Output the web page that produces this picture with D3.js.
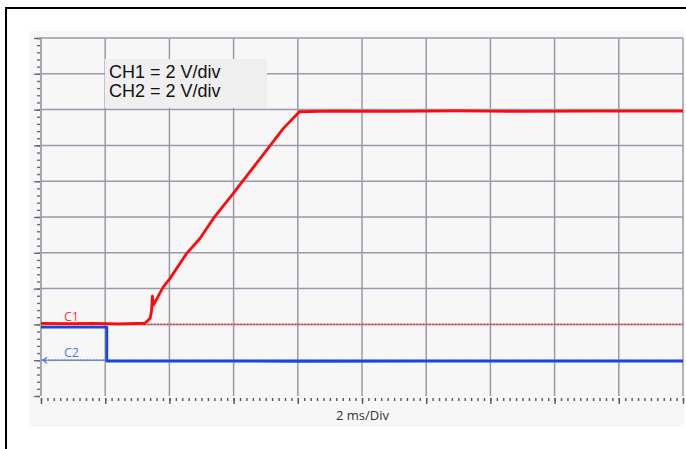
<!DOCTYPE html>
<html>
<head>
<meta charset="utf-8">
<script src="https://cdn.jsdelivr.net/npm/d3@7"></script>
<style>
  html, body { margin: 0; padding: 0; background: #fff; }
  svg { display: block; }
</style>
</head>
<body>
<svg id="chart" width="686" height="449"></svg>
<script>
// time axis in ms, 2 ms/div, 10 divisions
const timeDivs = [0, 2, 4, 6, 8, 10, 12, 14, 16, 18, 20];
// vertical divisions counted from the bottom of the screen
const voltDivs = [0, 1, 2, 3, 4, 5, 6, 7, 8, 9, 10];

const legendLines = ['CH1 = 2 V/div', 'CH2 = 2 V/div'];
const xLabel = '2 ms/Div';

// CH1 (red) - soft start ramp, volts
const ch1Time = [0, 0.8, 1.6, 2.4, 3.0, 3.24, 3.40, 3.44, 3.47, 3.50, 3.81, 4.02, 4.54, 4.95, 5.37, 5.99, 6.51, 7.03, 7.55, 8.05, 9, 11, 13, 15, 17, 20];
const ch1Volt = [0.06, 0.04, 0.06, 0.03, 0.05, 0.06, 0.34, 0.69, 1.58, 1.08, 2.10, 2.57, 3.97, 4.80, 5.92, 7.32, 8.53, 9.74, 10.95, 11.88, 11.92, 11.90, 11.93, 11.90, 11.92, 11.92];

// CH2 (blue) - enable signal, volts
const ch2Time = [0, 1.0, 2.05, 2.05, 4, 8, 12, 16, 20];
const ch2Volt = [1.85, 1.85, 1.85, -0.05, -0.05, -0.06, -0.05, -0.05, -0.05];

// channel settings: V/div and ground offset in divisions
const channels = [
  { name: 'C1', time: ch1Time, volt: ch1Volt, vdiv: 2, offset: 2, color: '#ff0a0a', label: '#f03a3a' },
  { name: 'C2', time: ch2Time, volt: ch2Volt, vdiv: 2, offset: 1, color: '#1846e0', label: '#4a78e6' }
];

const svg = d3.select('#chart');
const plotLeft = 41, plotRight = 683, plotTop = 38, plotBottom = 396;

const x = d3.scaleLinear().domain([0, 20]).range([plotLeft, plotRight]);
const y = d3.scaleLinear().domain([0, 10]).range([plotBottom, plotTop]);

// outer frame (only top and left edges show in the window)
svg.append('rect')
  .attr('x', 6).attr('y', 8)
  .attr('width', 700).attr('height', 460)
  .attr('fill', 'none')
  .attr('stroke', '#000')
  .attr('stroke-width', 2);

// scope panel background
svg.append('rect')
  .attr('x', 29).attr('y', 31)
  .attr('width', 655).attr('height', 396)
  .attr('fill', '#f7f7f8');

const grid = svg.append('g');

grid.selectAll('.vgrid')
  .data(timeDivs.slice(1))
  .enter()
  .append('line')
  .attr('x1', d => x(d)).attr('x2', d => x(d))
  .attr('y1', plotTop).attr('y2', plotBottom)
  .attr('stroke', '#9a99aa')
  .attr('stroke-width', 1.5);

grid.selectAll('.hgrid')
  .data(voltDivs.slice(1))
  .enter()
  .append('line')
  .attr('x1', plotLeft).attr('x2', plotRight)
  .attr('y1', d => y(d)).attr('y2', d => y(d))
  .attr('stroke', '#9a99aa')
  .attr('stroke-width', 1.5);

// left axis: majors per division, 5 minors
const yMinor = d3.range(0, 10.01, 0.2);
const yAxisMinor = d3.axisLeft(y).tickValues(yMinor).tickSize(3).tickFormat('');
const yAxisMajor = d3.axisLeft(y).tickValues(voltDivs).tickSize(6).tickFormat('');

const yg = svg.append('g').attr('transform', `translate(${plotLeft - 1},0)`);
yg.append('g').call(yAxisMinor);
yg.append('g').call(yAxisMajor);
yg.selectAll('.domain').remove();
yg.selectAll('.tick line').attr('stroke', '#6a6a72').attr('stroke-width', 1.4);

svg.append('line')
  .attr('x1', plotLeft).attr('x2', plotLeft)
  .attr('y1', plotTop - 1).attr('y2', plotBottom)
  .attr('stroke', '#8c8c98')
  .attr('stroke-width', 1.5);

// bottom axis: majors per division, 10 minors
const xMinor = d3.range(0, 20.01, 0.2);
const xAxisMinor = d3.axisBottom(x).tickValues(xMinor).tickSize(3).tickFormat('');
const xAxisMajor = d3.axisBottom(x).tickValues(timeDivs).tickSize(6).tickFormat('');

const xg = svg.append('g').attr('transform', `translate(0,${plotBottom + 2})`);
xg.append('g').call(xAxisMinor);
xg.append('g').call(xAxisMajor);
xg.selectAll('.domain').remove();
xg.selectAll('.tick line').attr('stroke', '#55555c').attr('stroke-width', 1.4);

svg.append('text')
  .attr('x', (x(0) + x(20)) / 2 + 0.5)
  .attr('y', 420)
  .attr('text-anchor', 'middle')
  .attr('font-family', '"Open Sans", "DejaVu Sans", sans-serif')
  .attr('font-size', 13)
  .attr('fill', '#333')
  .text(xLabel);

// ground reference markers
channels.forEach(ch => {
  const gy = y(ch.offset);
  svg.append('line')
    .attr('x1', plotLeft + 1).attr('x2', plotRight)
    .attr('y1', gy).attr('y2', gy)
    .attr('stroke', ch.label)
    .attr('stroke-width', 1.6)
    .attr('stroke-dasharray', '1.6,1.6');
  svg.append('text')
    .attr('x', 64).attr('y', gy - 3)
    .attr('font-family', '"Open Sans", "DejaVu Sans", sans-serif')
    .attr('font-size', 12.5)
    .attr('fill', ch.label)
    .text(ch.name);
});

// small arrow on C2 reference
svg.append('path')
  .attr('d', `M${plotLeft + 6},${y(1) - 3} L${plotLeft + 2},${y(1)} L${plotLeft + 6},${y(1) + 3}`)
  .attr('fill', 'none')
  .attr('stroke', channels[1].label)
  .attr('stroke-width', 1.2);

// traces
const line = ch => d3.line()
  .x(d => x(d[0]))
  .y(d => y(ch.offset + d[1] / ch.vdiv));

channels.slice().reverse().forEach(ch => {
  const pts = ch.time.map((t, i) => [t, ch.volt[i]]);
  svg.append('path')
    .datum(pts)
    .attr('d', line(ch))
    .attr('fill', 'none')
    .attr('stroke', ch.color)
    .attr('stroke-width', 2.8)
    .attr('stroke-linejoin', 'round');
});

// legend box
svg.append('rect')
  .attr('x', 105).attr('y', 59)
  .attr('width', 162).attr('height', 49)
  .attr('fill', '#efefef');

svg.selectAll('.legend')
  .data(legendLines)
  .enter()
  .append('text')
  .attr('x', 109)
  .attr('y', (d, i) => 77.5 + i * 19.5)
  .attr('font-family', '"Liberation Sans", Arial, sans-serif')
  .attr('font-size', 18)
  .attr('fill', '#111')
  .text(d => d);
</script>
</body>
</html>
